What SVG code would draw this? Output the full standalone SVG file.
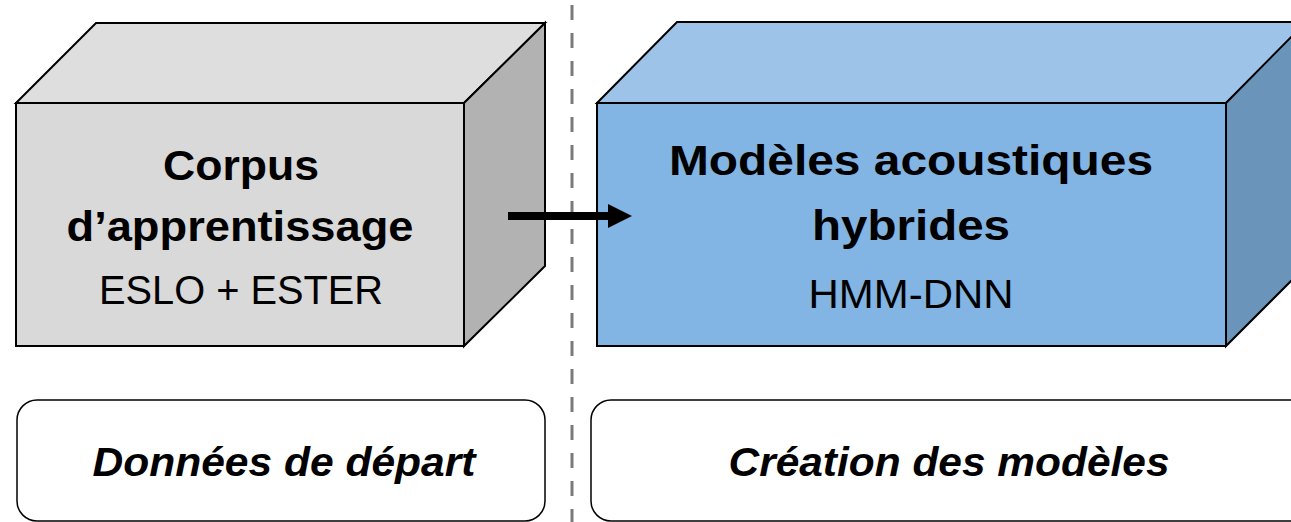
<svg xmlns="http://www.w3.org/2000/svg" width="1291" height="522" viewBox="0 0 1291 522">
  <style>
    .edge { stroke: #000; stroke-width: 2; stroke-linejoin: miter; }
    .title { font-family: "Liberation Sans", Arial, sans-serif; font-weight: bold; font-size: 42px; fill: #000; text-anchor: middle; }
    .sub { font-family: "Liberation Sans", Arial, sans-serif; font-size: 40px; fill: #000; text-anchor: middle; }
    .stage { font-family: "Liberation Sans", Arial, sans-serif; font-weight: bold; font-style: italic; font-size: 40px; fill: #000; text-anchor: middle; }
    .panel { fill: #fff; stroke: #000; stroke-width: 1.5; }
  </style>
  <defs>
    <marker id="arrowhead" viewBox="0 0 24 24" refX="0" refY="12" markerWidth="24" markerHeight="24" markerUnits="userSpaceOnUse" orient="auto">
      <path d="M0,0 L24,12 L0,24 Z" fill="#000"/>
    </marker>
  </defs>

  <rect width="1291" height="522" fill="#fff"/>

  <!-- separator between stages -->
  <line x1="572" y1="5" x2="572" y2="522" stroke="#7a7a7a" stroke-width="3" stroke-dasharray="15 13"/>

  <!-- training corpus block -->
  <g id="corpus">
    <polygon class="edge" points="16,103 96,23 545,23 464,103" fill="#dedede"/>
    <polygon class="edge" points="464,103 545,23 545,266 464,346" fill="#b2b2b2"/>
    <rect class="edge" x="16" y="103" width="448" height="243" fill="#d9d9d9"/>
    <text class="title" x="241" y="180" textLength="156" lengthAdjust="spacingAndGlyphs">Corpus</text>
    <text class="title" x="240" y="241" textLength="347" lengthAdjust="spacingAndGlyphs">d’apprentissage</text>
    <text class="sub" x="241" y="304" textLength="284" lengthAdjust="spacingAndGlyphs">ESLO + ESTER</text>
  </g>

  <!-- hybrid acoustic models block -->
  <g id="models">
    <polygon class="edge" points="597,103 677,22 1310,22 1226,103" fill="#9dc3e8"/>
    <polygon class="edge" points="1226,103 1306,22 1306,266 1226,346" fill="#6a94b9"/>
    <rect class="edge" x="597" y="103" width="629" height="243" fill="#82b4e4"/>
    <text class="title" x="911" y="175" textLength="484" lengthAdjust="spacingAndGlyphs">Modèles acoustiques</text>
    <text class="title" x="911" y="240" textLength="198" lengthAdjust="spacingAndGlyphs">hybrides</text>
    <text class="sub" x="911" y="308" textLength="205" lengthAdjust="spacingAndGlyphs">HMM-DNN</text>
  </g>

  <!-- stage labels -->
  <g id="stage-start">
    <rect class="panel" x="17" y="400" width="528" height="121" rx="20" ry="20"/>
    <text class="stage" x="284" y="476" textLength="383" lengthAdjust="spacingAndGlyphs">Données de départ</text>
  </g>
  <g id="stage-models">
    <rect class="panel" x="591" y="400" width="720" height="121" rx="20" ry="20"/>
    <text class="stage" x="949" y="476" textLength="441" lengthAdjust="spacingAndGlyphs">Création des modèles</text>
  </g>

  <!-- connectors -->
  <g id="connectors">
    <line x1="508" y1="216" x2="608" y2="216" stroke="#000" stroke-width="8" marker-end="url(#arrowhead)"/>
  </g>
</svg>
